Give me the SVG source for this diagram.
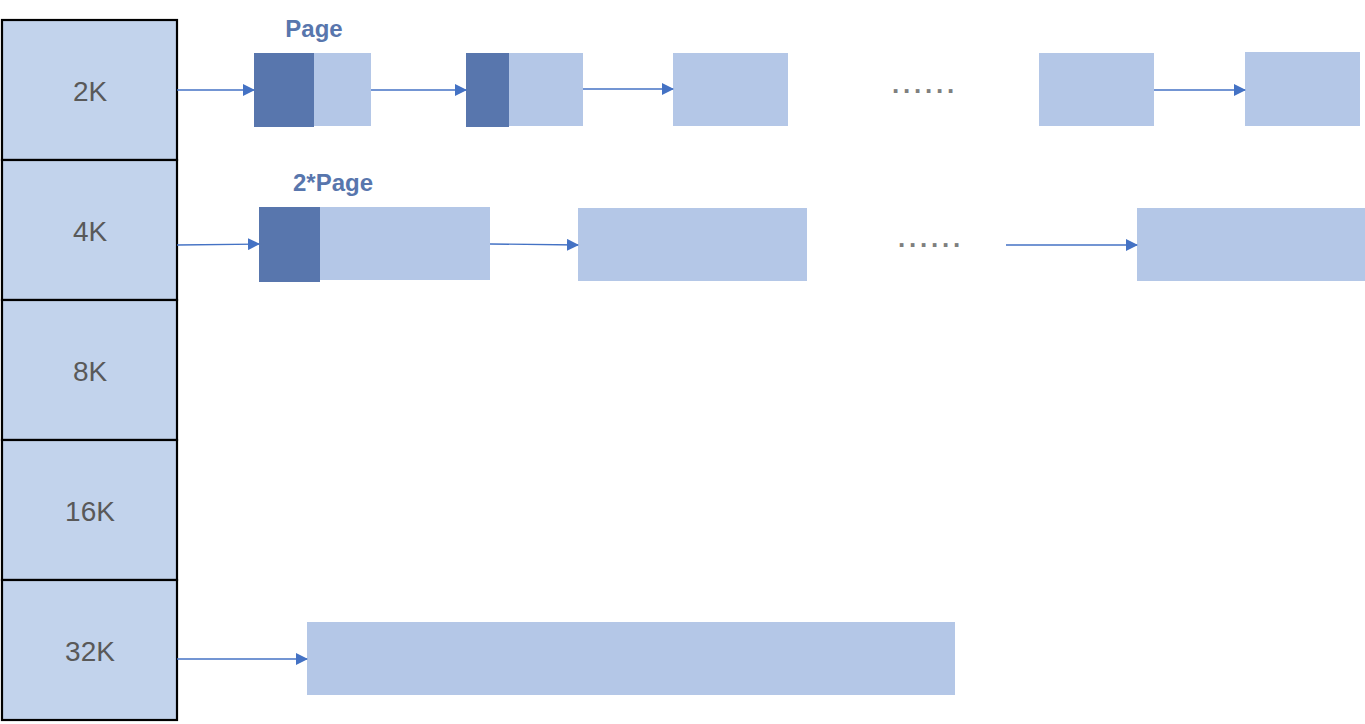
<svg xmlns="http://www.w3.org/2000/svg" width="1365" height="724" viewBox="0 0 1365 724">
<style>
.cell{fill:#c2d3ec;stroke:#000;stroke-width:2.2}
.ct{font-family:"Liberation Sans",Arial,sans-serif;font-size:28px;fill:#595959;text-anchor:middle}
.lt{fill:#b4c7e7}
.dk{fill:#5876ad}
.lbl{font-family:"Liberation Sans",Arial,sans-serif;font-size:24px;font-weight:bold;fill:#5876ad;text-anchor:middle}
.dots{font-family:"Liberation Sans",Arial,sans-serif;font-size:26px;font-weight:bold;fill:#7f7f7f;letter-spacing:3.8px}
.ar{stroke:#4472c4;stroke-width:1.3;fill:none;marker-end:url(#ah)}
</style>
<defs>
<marker id="ah" markerWidth="12" markerHeight="12" refX="11" refY="6" orient="auto" markerUnits="userSpaceOnUse">
<path d="M0,0 L12,6 L0,12 z" fill="#4472c4"/>
</marker>
</defs>
<rect width="1365" height="724" fill="#fff"/>
<g id="cells">
<g id="c2k"><rect class="cell" x="2" y="20" width="175" height="140"/><text class="ct" x="90" y="101">2K</text></g>
<g id="c4k"><rect class="cell" x="2" y="160" width="175" height="140"/><text class="ct" x="90" y="241">4K</text></g>
<g id="c8k"><rect class="cell" x="2" y="300" width="175" height="140"/><text class="ct" x="90" y="381">8K</text></g>
<g id="c16k"><rect class="cell" x="2" y="440" width="175" height="140"/><text class="ct" x="90" y="521">16K</text></g>
<g id="c32k"><rect class="cell" x="2" y="580" width="175" height="140"/><text class="ct" x="90" y="661">32K</text></g>
</g>
<g id="row1">
<g id="p1"><rect class="dk" x="254" y="53" width="60" height="74"/><rect class="lt" x="314" y="53" width="57" height="73"/></g>
<text id="lblPage" class="lbl" x="314" y="37">Page</text>
<g id="p2"><rect class="dk" x="466" y="53" width="43" height="74"/><rect class="lt" x="509" y="53" width="74" height="73"/></g>
<g id="p3"><rect class="lt" x="673" y="53" width="115" height="73"/></g>
<text id="dots1" class="dots" x="892" y="93">......</text>
<g id="p4"><rect class="lt" x="1039" y="53" width="115" height="73"/></g>
<g id="p5"><rect class="lt" x="1245" y="52" width="115" height="74"/></g>
</g>
<g id="row2">
<g id="q1"><rect class="dk" x="259" y="207" width="61" height="75"/><rect class="lt" x="320" y="207" width="170" height="73"/></g>
<text id="lbl2Page" class="lbl" x="333" y="191">2*Page</text>
<g id="q2"><rect class="lt" x="578" y="208" width="229" height="73"/></g>
<text id="dots2" class="dots" x="898" y="247">......</text>
<g id="q3"><rect class="lt" x="1137" y="208" width="228" height="73"/></g>
</g>
<g id="row32"><rect class="lt" x="307" y="622" width="648" height="73"/></g>
<g id="connectors">
<line class="ar" x1="177" y1="90" x2="254" y2="90"/>
<line class="ar" x1="371" y1="90" x2="466" y2="90"/>
<line class="ar" x1="583" y1="89" x2="673" y2="89"/>
<line class="ar" x1="1154" y1="90" x2="1245" y2="90"/>
<line class="ar" x1="177" y1="245" x2="259" y2="244"/>
<line class="ar" x1="490" y1="244" x2="578" y2="245"/>
<line class="ar" x1="1006" y1="245" x2="1137" y2="245"/>
<line class="ar" x1="177" y1="659" x2="307" y2="659"/>
</g>
</svg>
